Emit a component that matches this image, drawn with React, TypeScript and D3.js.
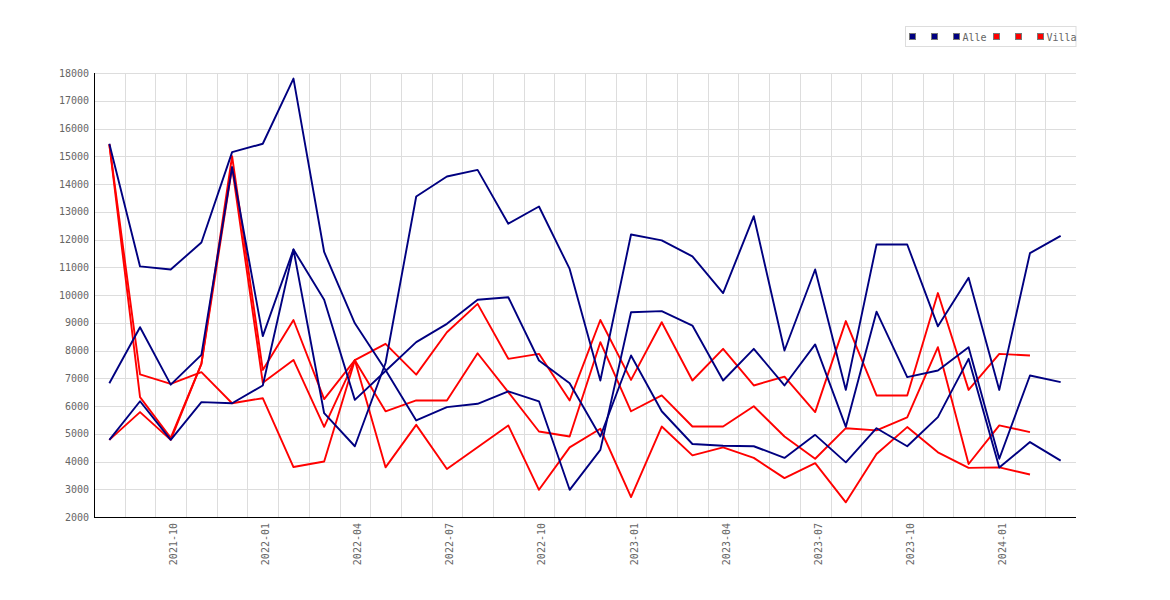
import { useEffect, useRef } from "react";
import * as d3 from "d3";

// ─── Data ────────────────────────────────────────────────────────────────────
const months = [
  "2021-08", "2021-09", "2021-10", "2021-11", "2021-12",
  "2022-01", "2022-02", "2022-03", "2022-04", "2022-05", "2022-06",
  "2022-07", "2022-08", "2022-09", "2022-10", "2022-11", "2022-12",
  "2023-01", "2023-02", "2023-03", "2023-04", "2023-05", "2023-06",
  "2023-07", "2023-08", "2023-09", "2023-10", "2023-11", "2023-12",
  "2024-01", "2024-02", "2024-03",
];

const alle1 = [
  15450, 11030, 10920, 11890, 15150, 15450, 17800, 11550, 8980, 7300, 5480,
  5960, 6080, 6530, 6170, 2980, 4420, 9380, 9420, 8900, 6920, 8060, 6740,
  8220, 5250, 9400, 7040, 7280, 8120, 4100, 7100, 6860,
];
const alle2 = [
  6820, 8840, 6770, 7840, 14610, 8520, 11640, 9830, 6220, 7260, 8300, 8960,
  9830, 9920, 7640, 6820, 4900, 7820, 5810, 4630, 4570, 4550, 4130, 4960,
  3970, 5200, 4550, 5600, 7700, 3780, 4700, 4030,
];
const alle3 = [
  4780, 6170, 4780, 6140, 6100, 6740, 11640, 5740, 4550, 7550, 13550, 14270,
  14510, 12570, 13190, 10940, 6920, 12180, 11970, 11390, 10070, 12840, 8000,
  10920, 6580, 11820, 11820, 8870, 10620, 6580, 11510, 12130,
];

// villa series stop one month earlier (2024-02)
const villa1 = [
  15430, 7140, 6800, 7220, 6100, 6280, 3800, 4000, 7650, 8240, 7130, 8660,
  9680, 7700, 7880, 6200, 9100, 6940, 9020, 6920, 8060, 6740, 7060, 5780,
  9060, 6380, 6380, 10070, 6580, 7880, 7820,
];
const villa2 = [
  15430, 6320, 4850, 7520, 15000, 7300, 9100, 6250, 7650, 5810, 6200, 6200,
  7900, 6500, 5080, 4900, 8300, 5810, 6380, 5260, 5260, 5990, 4900, 4100,
  5200, 5120, 5590, 8120, 3910, 5300, 5060,
];
const villa3 = [
  4780, 5780, 4780, 7520, 14600, 6840, 7660, 5250, 7650, 3790, 5320, 3730,
  4510, 5300, 2980, 4510, 5180, 2720, 5260, 4220, 4510, 4130, 3400, 3940,
  2530, 4270, 5240, 4330, 3770, 3790, 3530,
];

const yTicks = d3.range(2000, 18001, 1000);
const legendLabels = [" ", " ", "Alle", " ", " ", "Villa"];
const legendColors = ["#000080", "#000080", "#000080", "#ff0000", "#ff0000", "#ff0000"];

export default function App() {
  const svgRef = useRef<SVGSVGElement>(null);

  useEffect(() => {
    if (!svgRef.current) return;

    const width = 1170;
    const height = 600;
    const plot = { left: 94, right: 1076, top: 73, bottom: 517 };
    const font = "'DejaVu Sans Mono', monospace";
    const textColor = "#666";

    const svg = d3.select(svgRef.current);
    svg.selectAll("*").remove();
    svg.attr("width", width).attr("height", height);

    // ── Scales ─────────────────────────────────────────────────────────────
    const x = d3.scaleBand<string>().domain(months).range([plot.left, plot.right]);
    const bw = x.bandwidth();
    const y = d3.scaleLinear().domain([2000, 18000]).range([plot.bottom, plot.top]);

    // ── Grid ───────────────────────────────────────────────────────────────
    const grid = svg.append("g").attr("stroke", "#dddddd").attr("stroke-width", 1);
    grid
      .selectAll("line.h")
      .data(yTicks.slice(1))
      .enter()
      .append("line")
      .attr("x1", plot.left)
      .attr("x2", plot.right)
      .attr("y1", (d) => Math.round(y(d)) + 0.5)
      .attr("y2", (d) => Math.round(y(d)) + 0.5);
    grid
      .selectAll("line.v")
      .data(months.slice(1))
      .enter()
      .append("line")
      .attr("x1", (d) => Math.round(x(d)!) + 0.5)
      .attr("x2", (d) => Math.round(x(d)!) + 0.5)
      .attr("y1", plot.top)
      .attr("y2", plot.bottom);

    // ── Axes ───────────────────────────────────────────────────────────────
    svg
      .append("line")
      .attr("x1", plot.left + 0.5)
      .attr("x2", plot.left + 0.5)
      .attr("y1", plot.top)
      .attr("y2", plot.bottom + 0.5)
      .attr("stroke", "#000");
    svg
      .append("line")
      .attr("x1", plot.left)
      .attr("x2", plot.right)
      .attr("y1", plot.bottom + 0.5)
      .attr("y2", plot.bottom + 0.5)
      .attr("stroke", "#000");

    svg
      .append("g")
      .selectAll("text")
      .data(yTicks)
      .enter()
      .append("text")
      .attr("x", plot.left - 5)
      .attr("y", (d) => y(d))
      .attr("dy", "0.35em")
      .attr("text-anchor", "end")
      .attr("font-family", font)
      .attr("font-size", 10)
      .attr("fill", textColor)
      .text((d) => d);

    svg
      .append("g")
      .selectAll("text")
      .data(months.filter((m) => ["01", "04", "07", "10"].includes(m.slice(5))))
      .enter()
      .append("text")
      .attr("transform", (d) => `translate(${x(d)! + bw / 2 + 6.5},${plot.bottom + 6}) rotate(-90)`)
      .attr("text-anchor", "end")
      .attr("font-family", font)
      .attr("font-size", 10)
      .attr("fill", textColor)
      .text((d) => d);

    // ── Lines (villa underneath, alle on top) ──────────────────────────────
    const line = d3
      .line<number>()
      .x((_, i) => x(months[i])! + bw / 2)
      .y((d) => y(d));

    const series: [number[], string][] = [
      [villa1, "#ff0000"],
      [villa2, "#ff0000"],
      [villa3, "#ff0000"],
      [alle1, "#000080"],
      [alle2, "#000080"],
      [alle3, "#000080"],
    ];
    svg
      .append("g")
      .selectAll("path")
      .data(series)
      .enter()
      .append("path")
      .attr("d", (d) => line(d[0]))
      .attr("fill", "none")
      .attr("stroke", (d) => d[1])
      .attr("stroke-width", 1.9)
      .attr("stroke-linejoin", "round");

    // ── Legend ─────────────────────────────────────────────────────────────
    const legend = svg.append("g");
    legend
      .append("rect")
      .attr("x", 905.5)
      .attr("y", 26.5)
      .attr("width", 170.5)
      .attr("height", 20)
      .attr("fill", "#fff")
      .attr("stroke", "#dddddd");

    let lx = 909;
    legendLabels.forEach((label, i) => {
      legend
        .append("rect")
        .attr("x", lx + 0.5)
        .attr("y", 33.5)
        .attr("width", 6)
        .attr("height", 6)
        .attr("fill", legendColors[i])
        .attr("stroke", "#777");
      legend
        .append("text")
        .attr("x", lx + 9.5)
        .attr("y", 40.5)
        .attr("font-family", font)
        .attr("font-size", 10)
        .attr("fill", textColor)
        .attr("xml:space", "preserve")
        .text(label);
      lx += 16 + Math.max(1, label.trim().length) * 6;
    });
  }, []);

  return (
    <div style={{ position: "absolute", left: 0, top: 0, background: "#fff" }}>
      <svg ref={svgRef} style={{ display: "block" }} />
    </div>
  );
}
